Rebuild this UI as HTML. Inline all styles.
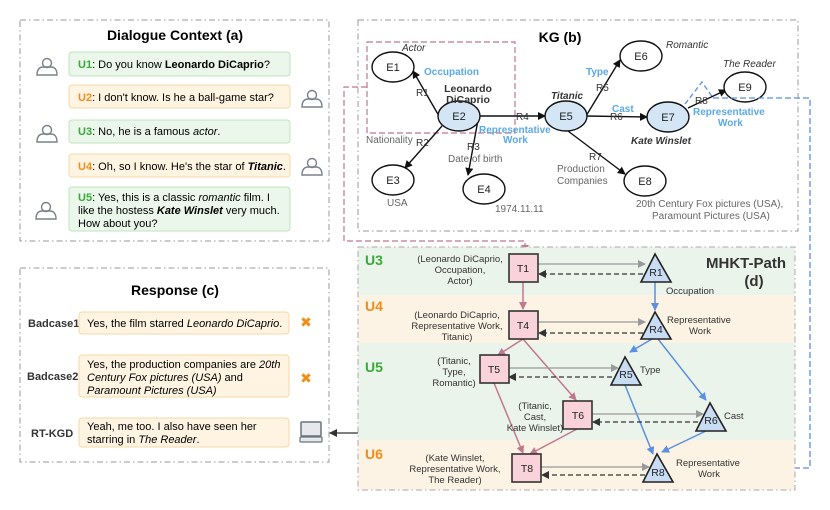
<!DOCTYPE html>
<html><head><meta charset="utf-8"><style>
html,body{margin:0;padding:0;background:#fff;}
svg{display:block;font-family:"Liberation Sans","DejaVu Sans",sans-serif;}
</style></head><body>
<svg width="830" height="510" viewBox="0 0 830 510" xmlns="http://www.w3.org/2000/svg">
<defs>
<marker id="ab" markerWidth="8" markerHeight="8" refX="7" refY="4" orient="auto" markerUnits="userSpaceOnUse"><path d="M0,0 L8,4 L0,8 z" fill="#111"/></marker>
<marker id="ag" markerWidth="8" markerHeight="8" refX="7" refY="4" orient="auto" markerUnits="userSpaceOnUse"><path d="M0,0 L8,4 L0,8 z" fill="#999"/></marker>
<marker id="ad" markerWidth="8" markerHeight="8" refX="7" refY="4" orient="auto" markerUnits="userSpaceOnUse"><path d="M0,0 L8,4 L0,8 z" fill="#333"/></marker>
<marker id="ap" markerWidth="8" markerHeight="8" refX="7" refY="4" orient="auto" markerUnits="userSpaceOnUse"><path d="M0,0 L8,4 L0,8 z" fill="#c0788e"/></marker>
<marker id="au" markerWidth="8" markerHeight="8" refX="7" refY="4" orient="auto" markerUnits="userSpaceOnUse"><path d="M0,0 L8,4 L0,8 z" fill="#5b8fe0"/></marker>
<g id="person" fill="none" stroke="#7a808a" stroke-width="1.4"><circle cx="0" cy="-4" r="4.5"/><path d="M-10,8 C-10,0 -5,0 -4,0 L4,0 C5,0 10,0 10,8 Z"/></g>
</defs>

<rect x="20" y="20" width="309" height="221" fill="none" stroke="#999" stroke-dasharray="6,3,1.5,3"/>
<text x="175" y="40" font-size="14" font-weight="bold" text-anchor="middle">Dialogue Context (a)</text>
<g font-size="11">
<rect x="69" y="52" width="221" height="24" rx="3" fill="#eaf7ea" stroke="#bfe3bf"/>
<text x="78" y="68"><tspan fill="#3aa83a" font-weight="bold">U1</tspan>: Do you know <tspan font-weight="bold">Leonardo DiCaprio</tspan>?</text>
<rect x="69" y="85" width="221" height="23" rx="3" fill="#fff3e2" stroke="#f5d9a8"/>
<text x="78" y="101"><tspan fill="#f08c1a" font-weight="bold">U2</tspan>: I don't know. Is he a ball-game star?</text>
<rect x="69" y="120" width="221" height="23" rx="3" fill="#eaf7ea" stroke="#bfe3bf"/>
<text x="78" y="135"><tspan fill="#3aa83a" font-weight="bold">U3</tspan>: No, he is a famous <tspan font-style="italic">actor</tspan>.</text>
<rect x="69" y="154" width="221" height="23" rx="3" fill="#fff3e2" stroke="#f5d9a8"/>
<text x="78" y="170"><tspan fill="#f08c1a" font-weight="bold">U4</tspan>: Oh, so I know. He's the star of <tspan font-weight="bold" font-style="italic">Titanic</tspan>.</text>
<rect x="69" y="187" width="221" height="44" rx="3" fill="#eaf7ea" stroke="#bfe3bf"/>
<text x="78" y="201"><tspan fill="#3aa83a" font-weight="bold">U5</tspan>: Yes, this is a classic <tspan font-style="italic">romantic</tspan> film. I</text>
<text x="78" y="214">like the hostess <tspan font-weight="bold" font-style="italic">Kate Winslet</tspan> very much.</text>
<text x="78" y="227">How about you?</text>
</g>
<use href="#person" x="47" y="67"/>
<use href="#person" x="312" y="99"/>
<use href="#person" x="47" y="134"/>
<use href="#person" x="312" y="167"/>
<use href="#person" x="46" y="211"/>

<rect x="20" y="268" width="309" height="194" fill="none" stroke="#999" stroke-dasharray="6,3,1.5,3"/>
<text x="175" y="295" font-size="14" font-weight="bold" text-anchor="middle">Response (c)</text>
<g font-size="11">
<text x="28" y="327" font-weight="bold" fill="#333">Badcase1</text>
<rect x="79" y="312" width="210" height="22" rx="3" fill="#fff3e2" stroke="#f5d9a8"/>
<text x="87" y="327">Yes, the film starred <tspan font-style="italic">Leonardo DiCaprio</tspan>.</text>
<text x="27" y="380" font-weight="bold" fill="#333">Badcase2</text>
<rect x="79" y="355" width="210" height="42" rx="3" fill="#fff3e2" stroke="#f5d9a8"/>
<text x="87" y="368">Yes, the production companies are <tspan font-style="italic">20th</tspan></text>
<text x="87" y="381" font-style="italic">Century Fox pictures (USA) <tspan font-style="normal">and</tspan></text>
<text x="87" y="394" font-style="italic">Paramount Pictures (USA)</text>
<text x="31" y="437" font-weight="bold" fill="#333">RT-KGD</text>
<rect x="79" y="418" width="210" height="29" rx="3" fill="#fff3e2" stroke="#f5d9a8"/>
<text x="87" y="430">Yeah, me too. I also have seen her</text>
<text x="87" y="443">starring in <tspan font-style="italic">The Reader</tspan>.</text>
</g>
<text x="306" y="327" font-size="14" font-weight="bold" fill="#f0901a" text-anchor="middle">✖</text>
<text x="306" y="383" font-size="14" font-weight="bold" fill="#f0901a" text-anchor="middle">✖</text>
<rect x="301" y="422" width="20" height="14" rx="1" fill="#e6e8ec" stroke="#6c727c" stroke-width="1.5"/>
<rect x="300" y="437" width="22" height="5" rx="1" fill="#e6e8ec" stroke="#6c727c" stroke-width="1.2"/>
<line x1="358" y1="433" x2="330" y2="433" stroke="#555" stroke-width="1.5" marker-end="url(#ad)"/>

<rect x="358" y="20" width="440" height="211" fill="none" stroke="#999" stroke-dasharray="6,3,1.5,3"/>
<text x="560" y="42" font-size="14" font-weight="bold" text-anchor="middle">KG (b)</text>
<rect x="367" y="42" width="148" height="91" fill="none" stroke="#c0788e" stroke-dasharray="6,3" stroke-width="1.2"/>
<polyline points="367,87 344,87 344,241 525,241 525,252" fill="none" stroke="#c0788e" stroke-dasharray="6,3" stroke-width="1.2" marker-end="url(#ap)"/>

<g stroke="#111" stroke-width="1.4" fill="none">
<line x1="439" y1="116" x2="413" y2="71" marker-end="url(#ab)"/>
<line x1="442" y1="126" x2="405" y2="168" marker-end="url(#ab)"/>
<line x1="478" y1="120" x2="468" y2="175" marker-end="url(#ab)"/>
<line x1="479" y1="116" x2="545" y2="116" marker-end="url(#ab)"/>
<line x1="586" y1="116" x2="620" y2="60" marker-end="url(#ab)"/>
<line x1="586" y1="116" x2="647" y2="117" marker-end="url(#ab)"/>
<line x1="568" y1="131" x2="625" y2="174" marker-end="url(#ab)"/>
<line x1="688" y1="108" x2="726" y2="90" marker-end="url(#ab)"/>
</g>
<g stroke="#111" stroke-width="1.4">
<ellipse cx="393" cy="67" rx="21" ry="15" fill="#fff"/>
<ellipse cx="459" cy="116" rx="21" ry="15" fill="#d4e6f6"/>
<ellipse cx="393" cy="180" rx="21" ry="15" fill="#fff"/>
<ellipse cx="484" cy="189" rx="21" ry="15" fill="#fff"/>
<ellipse cx="566" cy="116" rx="21" ry="15" fill="#d4e6f6"/>
<ellipse cx="641" cy="56" rx="21" ry="15" fill="#fff"/>
<ellipse cx="668" cy="117" rx="21" ry="15" fill="#d4e6f6"/>
<ellipse cx="645" cy="181" rx="21" ry="15" fill="#fff"/>
<ellipse cx="745" cy="87" rx="21" ry="15" fill="#fff"/>
</g>
<g font-size="11" text-anchor="middle" fill="#222">
<text x="393" y="71">E1</text><text x="459" y="120">E2</text><text x="393" y="184">E3</text>
<text x="484" y="193">E4</text><text x="566" y="120">E5</text><text x="641" y="60">E6</text>
<text x="668" y="121">E7</text><text x="645" y="185">E8</text><text x="745" y="91">E9</text>
</g>
<path d="M685,104 L702,82 L713,98" fill="none" stroke="#5b8fe0" stroke-dasharray="5,3" stroke-width="1.3"/>
<polyline points="713,98 810,98 810,468 672,468" fill="none" stroke="#5b8fe0" stroke-dasharray="6,3" stroke-width="1.3" marker-end="url(#au)"/>

<g font-size="10" fill="#333">
<text x="402" y="51" font-style="italic">Actor</text>
<text x="424" y="75" fill="#5aa9ea" font-weight="bold">Occupation</text>
<text x="416" y="96">R1</text>
<text x="468" y="92" font-weight="bold" font-size="10.5" text-anchor="middle">Leonardo</text>
<text x="468" y="103" font-weight="bold" font-size="10.5" text-anchor="middle">DiCaprio</text>
<text x="366" y="143" fill="#666">Nationality</text>
<text x="416" y="146">R2</text>
<text x="467" y="150">R3</text>
<text x="448" y="162" fill="#666">Date of birth</text>
<text x="516" y="120">R4</text>
<text x="479" y="133" fill="#5aa9ea" font-weight="bold">Representative</text>
<text x="503" y="143" fill="#5aa9ea" font-weight="bold">Work</text>
<text x="551" y="99" font-style="italic" font-weight="bold">Titanic</text>
<text x="387" y="206" fill="#666">USA</text>
<text x="495" y="212" fill="#666">1974.11.11</text>
<text x="586" y="75" fill="#5aa9ea" font-weight="bold">Type</text>
<text x="596" y="91">R5</text>
<text x="666" y="48" font-style="italic">Romantic</text>
<text x="612" y="112" fill="#5aa9ea" font-weight="bold">Cast</text>
<text x="610" y="120">R6</text>
<text x="631" y="144" font-style="italic" font-weight="bold">Kate Winslet</text>
<text x="589" y="160">R7</text>
<text x="557" y="172" fill="#666">Production</text>
<text x="557" y="184" fill="#666">Companies</text>
<text x="636" y="207" fill="#666">20th Century Fox pictures (USA),</text>
<text x="652" y="219" fill="#666">Paramount Pictures (USA)</text>
<text x="723" y="67" font-style="italic">The Reader</text>
<text x="695" y="104">R8</text>
<text x="693" y="115" fill="#5aa9ea" font-weight="bold">Representative</text>
<text x="718" y="126" fill="#5aa9ea" font-weight="bold">Work</text>
</g>

<rect x="358" y="247" width="437" height="48" fill="#ebf4ea"/>
<rect x="358" y="295" width="437" height="48" fill="#fdf3e4"/>
<rect x="358" y="343" width="437" height="97" fill="#ebf4ea"/>
<rect x="358" y="440" width="437" height="50" fill="#fdf3e4"/>
<rect x="358" y="247" width="437" height="243" fill="none" stroke="#aaa" stroke-dasharray="6,3,1.5,3"/>
<g font-size="14" font-weight="bold">
<text x="365" y="265" fill="#3aa83a">U3</text>
<text x="365" y="311" fill="#f08c1a">U4</text>
<text x="365" y="372" fill="#3aa83a">U5</text>
<text x="365" y="459" fill="#f08c1a">U6</text>
<text x="746" y="268" text-anchor="middle" fill="#333" font-size="15">MHKT-Path</text>
<text x="754" y="286" text-anchor="middle" fill="#333" font-size="15">(d)</text>
</g>
<g stroke="#c0788e" stroke-width="1.5" fill="none">
<line x1="523" y1="282" x2="523" y2="309" marker-end="url(#ap)"/>
<line x1="523" y1="339" x2="498" y2="355" marker-end="url(#ap)"/>
<line x1="523" y1="339" x2="576" y2="400" marker-end="url(#ap)"/>
<line x1="494" y1="383" x2="523" y2="453" marker-end="url(#ap)"/>
<line x1="577" y1="429" x2="530" y2="454" marker-end="url(#ap)"/>
</g>
<g stroke="#5b8fe0" stroke-width="1.5" fill="none">
<line x1="655" y1="282" x2="655" y2="310" marker-end="url(#au)"/>
<line x1="652" y1="339" x2="630" y2="352" marker-end="url(#au)"/>
<line x1="658" y1="339" x2="706" y2="400" marker-end="url(#au)"/>
<line x1="625" y1="385" x2="653" y2="454" marker-end="url(#au)"/>
<line x1="708" y1="430" x2="662" y2="452" marker-end="url(#au)"/>
</g>
<g stroke-width="1.3" fill="none">
<line x1="538" y1="264" x2="645" y2="264" stroke="#999" marker-end="url(#ag)"/>
<line x1="643" y1="274" x2="539" y2="274" stroke="#333" stroke-dasharray="5,3" marker-end="url(#ad)"/>
<line x1="538" y1="322" x2="645" y2="322" stroke="#999" marker-end="url(#ag)"/>
<line x1="643" y1="333" x2="539" y2="333" stroke="#333" stroke-dasharray="5,3" marker-end="url(#ad)"/>
<line x1="509" y1="368" x2="618" y2="368" stroke="#999" marker-end="url(#ag)"/>
<line x1="612" y1="377" x2="509" y2="377" stroke="#333" stroke-dasharray="5,3" marker-end="url(#ad)"/>
<line x1="592" y1="414" x2="703" y2="414" stroke="#999" marker-end="url(#ag)"/>
<line x1="698" y1="422" x2="593" y2="422" stroke="#333" stroke-dasharray="5,3" marker-end="url(#ad)"/>
<line x1="541" y1="467" x2="649" y2="467" stroke="#999" marker-end="url(#ag)"/>
<line x1="645" y1="475" x2="542" y2="475" stroke="#333" stroke-dasharray="5,3" marker-end="url(#ad)"/>
</g>
<g fill="#f9d2da" stroke="#333" stroke-width="1.6">
<rect x="509" y="254" width="29" height="28"/>
<rect x="509" y="311" width="29" height="28"/>
<rect x="480" y="355" width="29" height="28"/>
<rect x="563" y="401" width="29" height="28"/>
<rect x="512" y="454" width="29" height="28"/>
</g>
<g fill="#c8dcf4" stroke="#222" stroke-width="1.6">
<polygon points="655,254 641,282 671,282"/>
<polygon points="655,312 641,339 671,339"/>
<polygon points="625,357 611,385 641,385"/>
<polygon points="710,403 696,431 726,431"/>
<polygon points="657,454 643,482 673,482"/>
</g>
<g font-size="10.5" text-anchor="middle" fill="#222">
<text x="523" y="272">T1</text><text x="523" y="329">T4</text><text x="494" y="373">T5</text>
<text x="578" y="419">T6</text><text x="527" y="472">T8</text>
<text x="656" y="276">R1</text><text x="656" y="333">R4</text><text x="626" y="378">R5</text>
<text x="711" y="424">R6</text><text x="658" y="476">R8</text>
</g>
<g font-size="9.5" fill="#333" text-anchor="middle">
<text x="460" y="262">(Leonardo DiCaprio,</text>
<text x="460" y="273">Occupation,</text>
<text x="460" y="284">Actor)</text>
<text x="457" y="318">(Leonardo DiCaprio,</text>
<text x="457" y="329">Representative Work,</text>
<text x="457" y="340">Titanic)</text>
<text x="454" y="364">(Titanic,</text>
<text x="454" y="375">Type,</text>
<text x="454" y="386">Romantic)</text>
<text x="535" y="409">(Titanic,</text>
<text x="535" y="420">Cast,</text>
<text x="535" y="431">Kate Winslet)</text>
<text x="455" y="461">(Kate Winslet,</text>
<text x="455" y="472">Representative Work,</text>
<text x="455" y="483">The Reader)</text>
</g>
<g font-size="9.5" fill="#333">
<text x="666" y="294">Occupation</text>
<text x="667" y="323">Representative</text>
<text x="689" y="334">Work</text>
<text x="640" y="373">Type</text>
<text x="724" y="419">Cast</text>
<text x="676" y="466">Representative</text>
<text x="698" y="477">Work</text>
</g>
</svg>
</body></html>
